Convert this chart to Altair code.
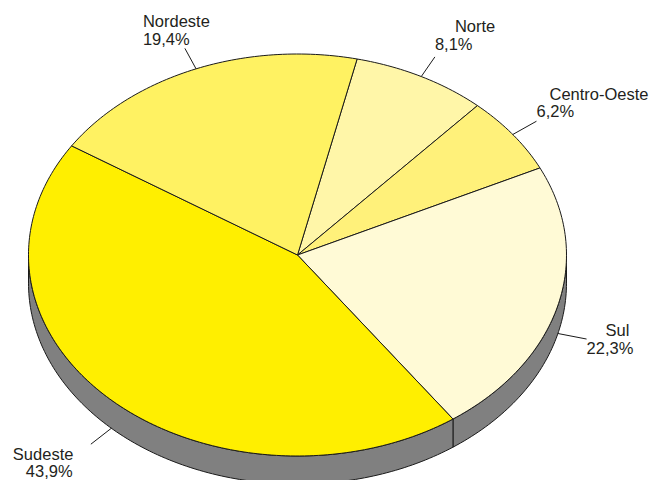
import numpy as np
import pandas as pd
import altair as alt

# ---- data ----
regions = ["Norte", "Centro-Oeste", "Sul", "Sudeste", "Nordeste"]
shares = [8.1, 6.2, 22.3, 43.9, 19.4]
pct_text = ["8,1%", "6,2%", "22,3%", "43,9%", "19,4%"]
colors = ["#FFF6A8", "#FFF17A", "#FFFAD6", "#FFEF00", "#FFF262"]

# ---- layout / style ----
START_DEG = 12.8        # angle of first slice edge, clockwise from 12 o'clock
DEPTH = 0.14            # thickness of the 3D wall, in y units
PX_X, PX_Y = 269.0, 201.0   # pixels per unit (ellipse half-axes)
CX, CY = 289.5, 247.0       # ellipse centre inside the plot area (px)
W, H = 641, 472
LEADER = 0.11
# label offsets in px relative to the leader end: (name dx, name dy, pct dx, pct dy)
label_offsets = {
    "Norte": (20, -25, 0, -7),
    "Centro-Oeste": (13, -21, 0, -4),
    "Sul": (19, -3, 0, 15),
    "Sudeste": (-78, 16, -65, 33),
    "Nordeste": (-42, -21, -42, -3),
}
TEXT_COLOR = "#231F20"
LINE_COLOR = "#1A1A1A"

xdom = [-CX / PX_X, (W - CX) / PX_X]
ydom = [-(H - CY) / PX_Y, CY / PX_Y]
xs = alt.Scale(domain=xdom, nice=False, zero=False)
ys = alt.Scale(domain=ydom, nice=False, zero=False)

total = sum(shares)
edges = START_DEG + 360.0 * np.concatenate([[0], np.cumsum(shares)]) / total

top_rows, side_rows, lead_rows, text_rows = [], [], [], []
for i, r in enumerate(regions):
    a0, a1 = edges[i], edges[i + 1]
    n = max(4, int(np.ceil((a1 - a0) / 1.0)))
    ang = np.radians(np.linspace(a0, a1, n + 1))
    pts = [(0.0, 0.0)] + [(np.sin(a), np.cos(a)) for a in ang] + [(0.0, 0.0)]
    for k, (x, y) in enumerate(pts):
        top_rows.append({"region": r, "k": k, "x": x, "y": y})
    # side wall: part of the slice in the lower half (90..270 deg)
    s0, s1 = a0, a1
    if s0 >= 360:
        s0, s1 = s0 - 360, s1 - 360
    lo, hi = max(s0, 90), min(s1, 270)
    if hi > lo:
        m = max(4, int(np.ceil((hi - lo) / 1.0)))
        sa = np.radians(np.linspace(lo, hi, m + 1))
        rim = [(np.sin(a), np.cos(a)) for a in sa]
        poly = rim + [(x, y - DEPTH) for (x, y) in rim[::-1]] + [rim[0]]
        for k, (x, y) in enumerate(poly):
            side_rows.append({"region": r, "k": k, "x": x, "y": y})
    # leader line from the mid angle
    mid = np.radians((a0 + a1) / 2)
    sx, sy = np.sin(mid), np.cos(mid)
    sy0 = sy - DEPTH if sy < 0 else sy
    ex, ey = sx + LEADER * np.sin(mid), sy0 + LEADER * np.cos(mid)
    lead_rows.append({"region": r, "x": sx, "y": sy0, "x2": ex, "y2": ey})
    ndx, ndy, pdx, pdy = label_offsets[r]
    text_rows.append({"t": r, "x": ex + ndx / PX_X, "y": ey - ndy / PX_Y})
    text_rows.append({"t": pct_text[i], "x": ex + pdx / PX_X, "y": ey - pdy / PX_Y})

top = pd.DataFrame(top_rows)
side = pd.DataFrame(side_rows)
lead = pd.DataFrame(lead_rows)
texts = pd.DataFrame(text_rows)

X = alt.X("x:Q", scale=xs, axis=None)
Y = alt.Y("y:Q", scale=ys, axis=None)

side_layer = alt.Chart(side).mark_line(
    fill="#808080", stroke=LINE_COLOR, strokeWidth=1, strokeJoin="round"
).encode(x=X, y=Y, order="k:Q", detail="region:N")

top_layer = alt.Chart(top).mark_line(
    stroke=LINE_COLOR, strokeWidth=1, strokeJoin="round"
).encode(
    x=X, y=Y, order="k:Q", detail="region:N",
    fill=alt.Fill("region:N", scale=alt.Scale(domain=regions, range=colors), legend=None),
)

lead_layer = alt.Chart(lead).mark_rule(color=LINE_COLOR, strokeWidth=1).encode(
    x=X, y=Y, x2="x2:Q", y2="y2:Q"
)

text_layer = alt.Chart(texts).mark_text(
    align="left", baseline="alphabetic", font="Liberation Sans", fontSize=16.5,
    color=TEXT_COLOR,
).encode(x=X, y=Y, text="t:N")

chart = alt.layer(side_layer, top_layer, lead_layer, text_layer).properties(
    width=W, height=H, padding=0, autosize=alt.AutoSizeParams(type="none")
).configure_view(stroke=None)

chart.save("out.html", embed_options={"renderer": "svg", "actions": False})
